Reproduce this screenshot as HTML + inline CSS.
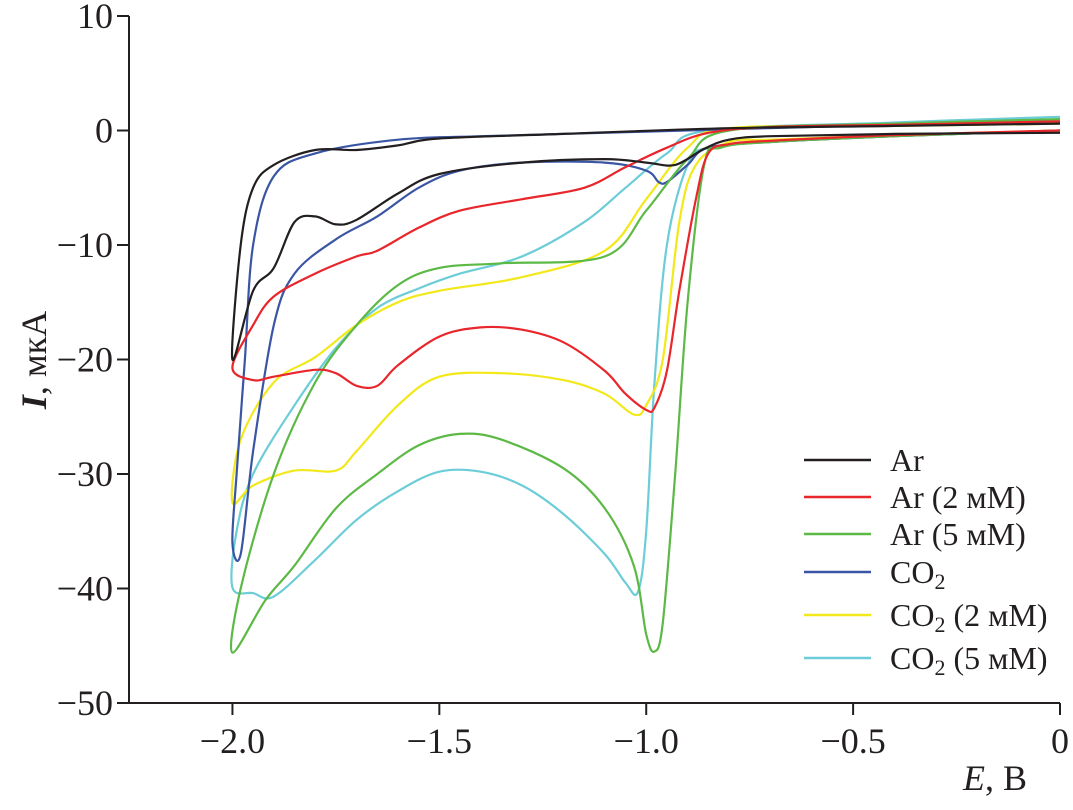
<!DOCTYPE html>
<html><head><meta charset="utf-8"><style>
html,body{margin:0;padding:0;background:#fff}
svg text{font-family:"Liberation Serif",serif;fill:#231f20}
</style></head><body>
<svg id="chart" width="1073" height="805" xmlns="http://www.w3.org/2000/svg">
<g id="axes"></g>
<g id="series"></g>
<g id="legend"></g>
</svg>
<script>
const xTicks=[-2.0,-1.5,-1.0,-0.5,0];
const xTickLabels=["\u22122.0","\u22121.5","\u22121.0","\u22120.5","0"];
const yTicks=[10,0,-10,-20,-30,-40,-50];
const yTickLabels=["10","0","\u221210","\u221220","\u221230","\u221240","\u221250"];
const seriesNames=["Ar","Ar (2 мМ)","Ar (5 мМ)","CO2","CO2 (2 мМ)","CO2 (5 мМ)"];
const seriesColors=["#231f20","#e8262b","#5cb946","#3a55a4","#f2e81a","#6ccdd8"];
const arE=[0,-0.4,-0.7,-0.8,-0.86,-0.93,-1.0,-1.1,-1.3,-1.5,-1.6,-1.7,-1.75,-1.8,-1.85,-1.9,-1.95,-2.0,-1.98,-1.95,-1.9,-1.8,-1.7,-1.6,-1.5,-1.2,-0.8,-0.4,0];
const arI=[-0.2,-0.3,-0.5,-0.8,-1.6,-3,-2.8,-2.5,-2.8,-3.8,-5.5,-7.8,-8.2,-7.5,-8,-12,-14,-20,-10,-5,-3,-1.7,-1.7,-1.3,-0.7,-0.3,0.2,0.4,0.6];
const ar2E=[0,-0.4,-0.7,-0.8,-0.85,-0.88,-0.92,-0.95,-0.98,-1.0,-1.05,-1.1,-1.2,-1.3,-1.4,-1.5,-1.6,-1.65,-1.7,-1.75,-1.8,-1.9,-1.95,-2.0,-1.95,-1.9,-1.8,-1.7,-1.65,-1.55,-1.45,-1.3,-1.15,-1.05,-0.95,-0.85,-0.7,-0.4,0];
const ar2I=[0,-0.4,-0.9,-1.2,-2,-6,-14,-21,-24.2,-24.4,-23,-21,-18.5,-17.4,-17.2,-18,-20.5,-22.3,-22.3,-21.2,-20.9,-21.5,-21.8,-20.7,-17,-14.5,-12.5,-11,-10.5,-8.5,-7,-6,-5,-3.2,-1.5,-0.2,0.3,0.5,0.8];
const ar5E=[0,-0.4,-0.7,-0.82,-0.86,-0.9,-0.93,-0.96,-0.98,-1.0,-1.03,-1.1,-1.2,-1.35,-1.45,-1.55,-1.65,-1.75,-1.85,-1.92,-2.0,-1.98,-1.9,-1.8,-1.7,-1.6,-1.5,-1.35,-1.1,-1.0,-0.9,-0.8,-0.4,0];
const ar5I=[0,-0.5,-1,-1.5,-3,-15,-30,-43,-45.5,-44,-38,-33,-29.5,-27,-26.5,-27.5,-30,-33,-38,-41,-45.6,-40,-30,-22,-17,-13.5,-12,-11.6,-11,-7,-2.5,0,0.6,1];
const co2E=[0,-0.4,-0.7,-0.85,-0.9,-0.95,-0.97,-1.0,-1.1,-1.3,-1.45,-1.55,-1.65,-1.75,-1.85,-1.9,-1.95,-1.98,-2.0,-1.99,-1.97,-1.95,-1.9,-1.8,-1.6,-1.4,-1.0,-0.5,0];
const co2I=[0,-0.5,-1,-1.5,-3,-4.5,-4.5,-3.5,-2.8,-2.8,-3.5,-5,-7.5,-9.5,-12.5,-17,-28,-37,-36,-30,-20,-10,-4,-2,-0.8,-0.5,-0.1,0.4,0.8];
const co22E=[0,-0.4,-0.7,-0.8,-0.88,-0.92,-0.96,-1.0,-1.03,-1.1,-1.2,-1.35,-1.5,-1.6,-1.7,-1.75,-1.85,-1.95,-2.0,-1.98,-1.9,-1.8,-1.7,-1.6,-1.5,-1.3,-1.1,-1.0,-0.9,-0.8,-0.4,0];
const co22I=[0,-0.4,-0.8,-1,-3,-8,-20,-24,-24.8,-23,-21.8,-21.2,-21.5,-24,-28,-29.7,-29.7,-31,-32.5,-27,-22,-19.8,-17,-15,-14,-12.8,-10.5,-6,-1.5,0.2,0.4,0.6];
const co25E=[0,-0.4,-0.7,-0.85,-0.9,-0.95,-0.98,-1.0,-1.02,-1.05,-1.1,-1.2,-1.3,-1.4,-1.5,-1.6,-1.7,-1.8,-1.9,-1.95,-2.0,-1.99,-1.95,-1.85,-1.75,-1.65,-1.55,-1.45,-1.3,-1.15,-1.05,-0.95,-0.85,-0.4,0];
const co25I=[0,-0.5,-1,-1.5,-3,-10,-22,-35,-40.3,-39.5,-37,-33.5,-31,-29.8,-29.8,-31.5,-34,-37.5,-40.7,-40.4,-39.9,-35,-30,-24,-19,-15.5,-13.8,-12.5,-11,-8,-5,-2,0,0.7,1.2];
const seriesE=[arE,ar2E,ar5E,co2E,co22E,co25E];
const seriesI=[arI,ar2I,ar5I,co2I,co22I,co25I];

const NS="http://www.w3.org/2000/svg";
const X0=129,XR=1060,Y0=703,YT=16;
function sx(e){return X0+(e+2.25)/2.25*(XR-X0);}
function sy(i){return Y0-(i+50)/60*(Y0-YT);}
function mk(t,p,a){const el=document.createElementNS(NS,t);for(const k in a)el.setAttribute(k,a[k]);p.appendChild(el);return el;}
const axes=document.getElementById('axes');
let l=mk('line',axes,{x1:X0,y1:YT,x2:X0,y2:Y0,stroke:'#231f20','stroke-width':2});


l=mk('line',axes,{x1:X0,y1:Y0,x2:XR,y2:Y0,stroke:'#231f20','stroke-width':2});


yTicks.forEach((v,k)=>{
  const t=mk('line',axes,{x1:X0-12,y1:sy(v),x2:X0,y2:sy(v),stroke:'#231f20','stroke-width':2});
  
  
  const tx=mk('text',axes,{x:X0-16,y:sy(v)+12,'text-anchor':'end','font-size':36});
  tx.textContent=yTickLabels[k];
  
  
});
xTicks.forEach((v,k)=>{
  const t=mk('line',axes,{x1:sx(v),y1:Y0,x2:sx(v),y2:Y0+12,stroke:'#231f20','stroke-width':2});
  
  
  const tx=mk('text',axes,{x:sx(v),y:Y0+50,'text-anchor':'middle','font-size':36});
  tx.textContent=xTickLabels[k];
  
  
});
let yt=mk('text',axes,{transform:'translate(46,360) rotate(-90)','text-anchor':'middle','font-size':36});
yt.innerHTML='<tspan font-style="italic" font-weight="bold">I</tspan>, мкА';


let xt=mk('text',axes,{x:995,y:790,'text-anchor':'middle','font-size':36});
xt.innerHTML='<tspan font-style="italic">E</tspan>, В';



function smooth(pts){
  let d='M'+pts[0][0].toFixed(1)+','+pts[0][1].toFixed(1);
  for(let i=0;i<pts.length-1;i++){
    const p0=pts[Math.max(0,i-1)],p1=pts[i],p2=pts[i+1],p3=pts[Math.min(pts.length-1,i+2)];
    const c1=[p1[0]+(p2[0]-p0[0])/6,p1[1]+(p2[1]-p0[1])/6];
    const c2=[p2[0]-(p3[0]-p1[0])/6,p2[1]-(p3[1]-p1[1])/6];
    d+='C'+c1[0].toFixed(1)+','+c1[1].toFixed(1)+' '+c2[0].toFixed(1)+','+c2[1].toFixed(1)+' '+p2[0].toFixed(1)+','+p2[1].toFixed(1);
  }
  return d;
}
const sg=document.getElementById('series');
const order=[5,4,3,2,1,0];
order.forEach(s=>{
  const pts=seriesE[s].map((e,k)=>[sx(e),sy(seriesI[s][k])]);
  const p=mk('path',sg,{d:smooth(pts),fill:'none',stroke:seriesColors[s],'stroke-width':2.2});
  
  
});
const lg=document.getElementById('legend');
const ly=[460,497,534,572,615,658];
seriesNames.forEach((n,k)=>{
  const ln=mk('line',lg,{x1:804,y1:ly[k],x2:871,y2:ly[k],stroke:seriesColors[k],'stroke-width':2.5});
  
  
  const tx=mk('text',lg,{x:890,y:ly[k]+11,'font-size':32});
  if(n.startsWith('CO2')){
    tx.innerHTML='CO<tspan font-size="22" dy="6">2</tspan><tspan dy="-6">'+n.slice(3).replace(/^ /,'\u00a0')+'</tspan>';
  } else tx.textContent=n;
  
  
});
</script>
</body></html>
